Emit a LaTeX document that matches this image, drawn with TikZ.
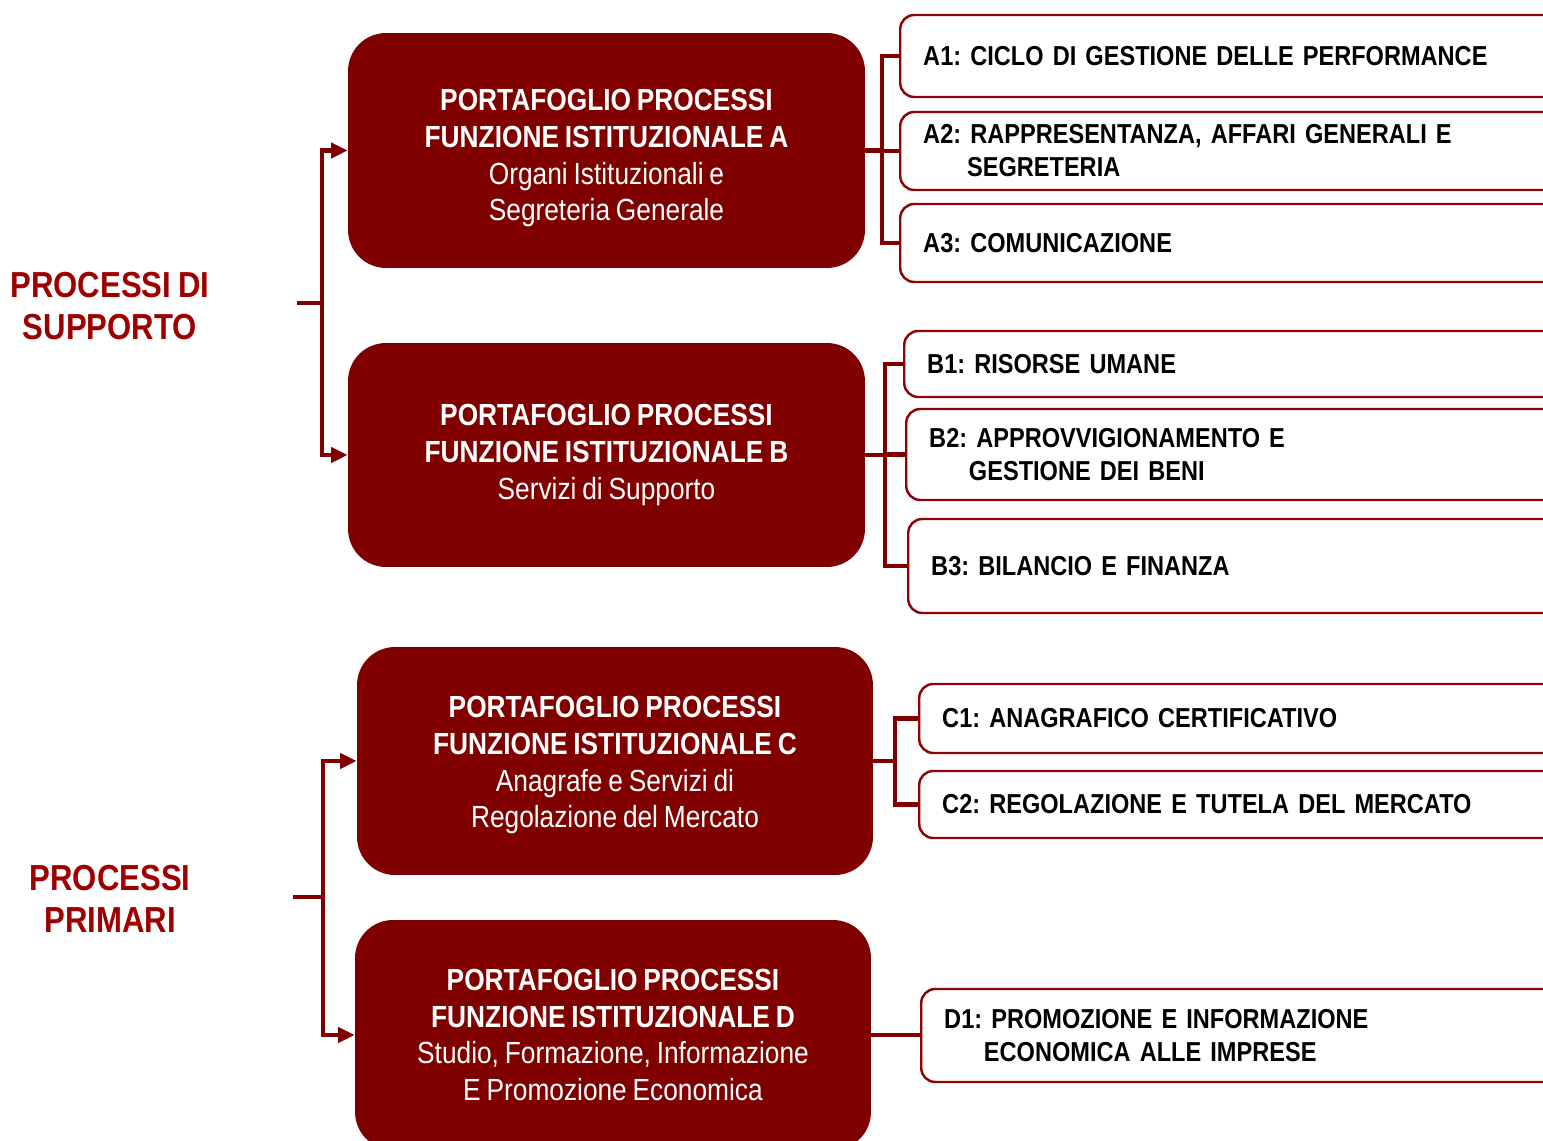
\documentclass[tikz,border=0pt]{standalone}
\usepackage{fontspec}
\setmainfont[FakeStretch=0.86,WordSpace=0.8]{Liberation Sans}
\usetikzlibrary{arrows.meta,calc}
\definecolor{darkred}{RGB}{128,0,0}
\definecolor{labelred}{RGB}{158,0,0}
\definecolor{borderred}{RGB}{140,4,4}
\frenchspacing

\begin{document}
\begin{tikzpicture}[x=0.02cm,y=-0.02cm,
        portfolio/.style={fill=darkred, draw=none, rounded corners=0.76cm, text=white, align=center,
            font=\fontsize{17.4}{20.9}\selectfont},
        process/.style={draw=borderred, line width=1.4pt, fill=white, rounded corners=0.28cm, anchor=west,
            align=left, text width=12.4cm, inner xsep=0.46cm, font=\bfseries\fontsize{15.6}{18.7}\selectfont},
        group/.style={text=labelred, align=center, font=\bfseries\fontsize{20.6}{24}\selectfont},
        link/.style={draw=darkred, line width=2.3pt},
        branch/.style={draw=darkred, line width=2.8pt, -{Triangle[length=9.5pt,width=8.5pt]}}]

        \useasboundingbox (0,0) rectangle (1543,1141);

        % the two groups on the left
        \node[group] (supporto) at (110,306) {PROCESSI DI\\SUPPORTO};
        \node[group] (primari) at (110,899) {PROCESSI\\PRIMARI};

        % the portfolio boxes (the rule only pushes the text a little lower)
        \node[portfolio, minimum width=10.34cm, minimum height=4.7cm] (boxA) at (606.5,150.5)
            {\rule{0pt}{21pt}\textbf{PORTAFOGLIO PROCESSI}\\\textbf{FUNZIONE ISTITUZIONALE A}\\Organi Istituzionali e\\Segreteria Generale};
        \node[portfolio, minimum width=10.34cm, minimum height=4.48cm] (boxB) at (606.5,455)
            {\textbf{PORTAFOGLIO PROCESSI}\\\textbf{FUNZIONE ISTITUZIONALE B}\\Servizi di Supporto};
        \node[portfolio, minimum width=10.32cm, minimum height=4.56cm] (boxC) at (615,761)
            {\rule{0pt}{17pt}\textbf{PORTAFOGLIO PROCESSI}\\\textbf{FUNZIONE ISTITUZIONALE C}\\Anagrafe e Servizi di\\Regolazione del Mercato};
        \node[portfolio, minimum width=10.32cm, minimum height=4.6cm] (boxD) at (613,1035)
            {\textbf{PORTAFOGLIO PROCESSI}\\\textbf{FUNZIONE ISTITUZIONALE D}\\Studio, Formazione, Informazione\\E Promozione Economica};

        % the processes on the right
        \node[process, minimum height=1.64cm] (a1) at (899,56) {A1: CICLO DI GESTIONE DELLE PERFORMANCE};
        \node[process, minimum height=1.56cm] (a2) at (899,151) {A2: RAPPRESENTANZA, AFFARI GENERALI E\\\hspace*{1.6em}SEGRETERIA};
        \node[process, minimum height=1.56cm] (a3) at (899,243) {A3: COMUNICAZIONE};
        \node[process, minimum height=1.32cm] (b1) at (903,364) {B1: RISORSE UMANE};
        \node[process, minimum height=1.82cm] (b2) at (905,454.5) {B2: APPROVVIGIONAMENTO E\\\hspace*{1.45em}GESTIONE DEI BENI};
        \node[process, minimum height=1.88cm] (b3) at (907,566) {B3: BILANCIO E FINANZA};
        \node[process, minimum height=1.38cm] (c1) at (918,718.5) {C1: ANAGRAFICO CERTIFICATIVO};
        \node[process, minimum height=1.34cm] (c2) at (918,804.5) {C2: REGOLAZIONE E TUTELA DEL MERCATO};
        \node[process, minimum height=1.86cm] (d1) at (920,1035.5) {D1: PROMOZIONE E INFORMAZIONE\\\hspace*{1.45em}ECONOMICA ALLE IMPRESE};

        % the brackets on the left (free ends and junctions)
        \coordinate (sup) at (297,303);
        \coordinate (jsup) at (322,303);
        \coordinate (pri) at (293,897);
        \coordinate (jpri) at (323,897);

        \draw[link, line width=2.8pt] (sup) -- (jsup);
        \draw[branch] (jsup) |- (boxA);
        \draw[branch] (jsup) |- (boxB);
        \draw[link, line width=2.8pt] (pri) -- (jpri);
        \draw[branch] (jpri) |- (boxC);
        \draw[branch] (jpri) |- (boxD);

        % the connectors on the right
        \coordinate (ja) at ($(boxA.east)+(17,0)$);
        \coordinate (jb) at ($(boxB.east)+(20,0)$);
        \coordinate (jc) at ($(boxC.east)+(22,0)$);

        \draw[link] (boxA.east) -- (ja);
        \draw[link] (ja) |- (a1);
        \draw[link] (ja) |- (a2);
        \draw[link] (ja) |- (a3);
        \draw[link] (boxB.east) -- (jb);
        \draw[link] (jb) |- (b1);
        \draw[link] (jb) |- (b2);
        \draw[link] (jb) |- (b3);
        \draw[link] (boxC.east) -- (jc);
        \draw[link] (jc) |- (c1);
        \draw[link] (jc) |- (c2);
        \draw[link] (boxD.east) -- (d1.west |- boxD.east);

    \end{tikzpicture}
\end{document}
